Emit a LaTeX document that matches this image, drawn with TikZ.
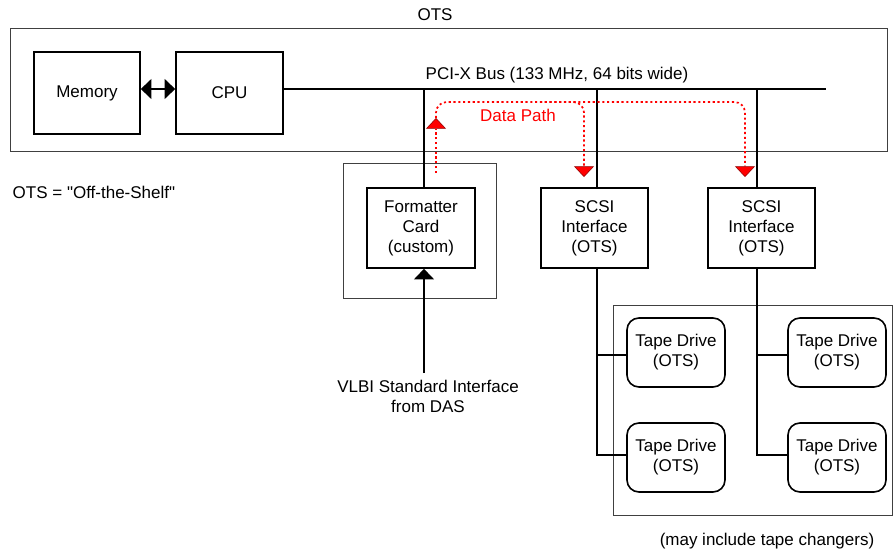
\documentclass[tikz,border=0pt]{standalone}
\usepackage{fontspec}
\setmainfont{Liberation Sans}
\usetikzlibrary{arrows.meta}
\begin{document}
\begin{tikzpicture}[x=0.75pt,y=-0.75pt,
  every node/.style={font=\fontsize{12.75}{15}\selectfont},
  box/.style={draw, line width=1.2pt, align=center, inner sep=0pt, fill=white},
  tapebox/.style={box, rounded corners=9pt, minimum width=73.5pt, minimum height=51.75pt},
  thinbox/.style={draw=black!75, line width=0.7pt},
  wire/.style={line width=1.2pt},
  blk/.style={-{Triangle[width=15pt,length=8pt]}},
  redpath/.style={red, line width=1.3pt, dash pattern=on 1.6pt off 2pt, rounded corners=8pt},
  redtip/.style={-{Triangle[width=15pt,length=8pt,fill=red,color=red!55!black,line width=0.4pt]}}
]
\useasboundingbox (0,0) rectangle (893,554);

% outer frames
\draw[thinbox] (10,28) rectangle (887,151);
\draw[thinbox] (343,163) rectangle (496,298);
\draw[thinbox] (613,305) rectangle (892,515);

% texts
\node (otslbl) at (435,15) {OTS};
\node[anchor=west] (otsdef) at (8,192) {OTS = \textquotedbl Off-the-Shelf\textquotedbl};
\node (buslbl) at (557,75) {PCI-X Bus (133 MHz, 64 bits wide)};
\node[text=red] (dplbl) at (518,115) {Data Path};
\node[align=center] (vlbi) at (428,396) {VLBI Standard Interface\\from DAS};
\node (chg) at (767,541) {(may include tape changers)};

% boxes
\node[box, minimum width=79.5pt, minimum height=61.5pt] (mem) at (87,93) {Memory};
\node[box, minimum width=80.25pt, minimum height=61.5pt] (cpu) at (229.5,93) {CPU};
\node[box, minimum width=81pt, minimum height=60pt] (fmt) at (421,228) {Formatter\\Card\\(custom)};
\node[box, minimum width=80.25pt, minimum height=60pt] (scsi1) at (594.5,228) {SCSI\\Interface\\(OTS)};
\node[box, minimum width=80.25pt, minimum height=60pt] (scsi2) at (761.5,228) {SCSI\\Interface\\(OTS)};
\node[tapebox] (td1) at (676,352.5) {Tape Drive\\(OTS)};
\node[tapebox] (td2) at (676,457.5) {Tape Drive\\(OTS)};
\node[tapebox] (td3) at (837,352.5) {Tape Drive\\(OTS)};
\node[tapebox] (td4) at (837,457.5) {Tape Drive\\(OTS)};

% bus
\coordinate (busend) at (826,89);
\coordinate (b1) at (424,89);
\coordinate (b2) at (597,89);
\coordinate (b3) at (757,89);
\draw[wire] (cpu.east |- busend) -- (busend);
\draw[wire, {Triangle[width=15pt,length=8pt]}-{Triangle[width=15pt,length=8pt]}] (mem.east |- b1) -- (cpu.west |- b1);
\draw[wire] (b1) -- (b1 |- fmt.north);
\draw[wire] (b2) -- (b2 |- scsi1.north);
\draw[wire] (b3) -- (b3 |- scsi2.north);

% VLBI input
\coordinate (vin) at (424,373);
\draw[wire, blk] (vin) -- (vin |- fmt.south);

% SCSI to tape drives
\coordinate (s1a) at (597,355);
\coordinate (s1b) at (597,455);
\coordinate (s2a) at (757,355);
\coordinate (s2b) at (757,455);
\draw[wire] (b2 |- scsi1.south) -- (s1b) -- (s1b -| td2.west);
\draw[wire] (s1a) -- (s1a -| td1.west);
\draw[wire] (b3 |- scsi2.south) -- (s2b) -- (s2b -| td4.west);
\draw[wire] (s2a) -- (s2a -| td3.west);

% data path
\coordinate (dpA) at (436,173);
\coordinate (dpB) at (436,118);
\coordinate (dpTop) at (560,102);
\coordinate (dpTop2) at (540,102);
\coordinate (dpC) at (745,177);
\coordinate (dpD) at (584,177);
\draw[redpath, redtip] (dpA) -- (dpB);
\draw[redpath, redtip] (dpB) |- (dpTop) -| (dpC);
\draw[redpath, redtip] (dpTop2) -| (dpD);
\end{tikzpicture}
\end{document}
